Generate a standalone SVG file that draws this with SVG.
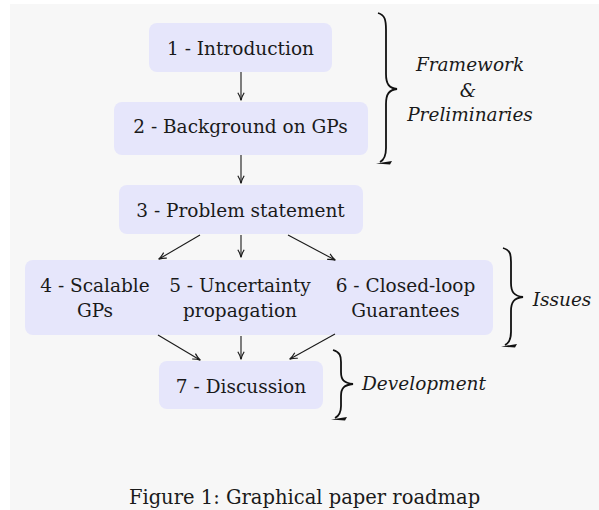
<svg xmlns="http://www.w3.org/2000/svg" width="599" height="510" viewBox="0 0 599 510">
<defs>
<style>
.node rect{fill:#e6e6fb;stroke:none}
.t{font-family:"DejaVu Serif","Liberation Serif",serif;font-size:18.5px;fill:#1a1a1a;text-anchor:middle}
.i{font-style:italic}
.cap{font-size:19.5px}
.conn path{fill:none;stroke:#1a1a1a;stroke-width:1.1}
.brace path.b{fill:none;stroke:#111;stroke-width:1.8}
.brace path.h{fill:#111;stroke:none}
</style>
<marker id="ah" viewBox="0 0 10 10" refX="9" refY="5" markerWidth="9" markerHeight="9" markerUnits="userSpaceOnUse" orient="auto">
<path d="M1,1.5 Q5,4 9.5,5 Q5,6 1,8.5" fill="none" stroke="#1a1a1a" stroke-width="1.3"/>
</marker>
</defs>
<rect x="0" y="0" width="599" height="510" fill="#ffffff"/>
<rect x="10" y="4" width="589" height="506" fill="#f7f7f7"/>

<g id="n1" class="node"><rect x="149" y="23" width="183" height="49" rx="8"/><text class="t" x="240.5" y="55">1 - Introduction</text></g>
<g id="n2" class="node"><rect x="114" y="102" width="254" height="53" rx="8"/><text class="t" x="240.5" y="133">2 - Background on GPs</text></g>
<g id="n3" class="node"><rect x="119" y="185" width="244" height="49" rx="8"/><text class="t" x="240.5" y="217">3 - Problem statement</text></g>
<g id="n456" class="node"><rect x="25" y="260" width="468" height="75" rx="8"/>
<text class="t" x="95" y="292">4 - Scalable</text><text class="t" x="95" y="317">GPs</text>
<text class="t" x="240" y="292">5 - Uncertainty</text><text class="t" x="240" y="317">propagation</text>
<text class="t" x="405.5" y="292">6 - Closed-loop</text><text class="t" x="405.5" y="317">Guarantees</text></g>
<g id="n7" class="node"><rect x="159" y="361" width="164" height="48" rx="8"/><text class="t" x="241" y="393">7 - Discussion</text></g>

<g id="connectors" class="conn">
<path d="M241,72 L241,100" marker-end="url(#ah)"/>
<path d="M241,155 L241,183" marker-end="url(#ah)"/>
<path d="M200,235 L159,259" marker-end="url(#ah)"/>
<path d="M241,235 L241,257" marker-end="url(#ah)"/>
<path d="M288,235 L335,260" marker-end="url(#ah)"/>
<path d="M158,335 L200,360" marker-end="url(#ah)"/>
<path d="M241,336 L241,359" marker-end="url(#ah)"/>
<path d="M335,334 L290,359" marker-end="url(#ah)"/>
</g>

<g id="brace1" class="brace">
<path class="b" d="M378,13 C385,15 386,20 386,30 L386,74 C386,84 389,88 397,89 C389,90 386,94 386,104 L386,148 C386,156 384,160 380,162"/>
<path class="h" d="M376,163.5 L392,161 L390,164.5 Z"/>
<text class="t i" x="470" y="71">Framework</text>
<text class="t i" x="468" y="97">&amp;</text>
<text class="t i" x="470" y="121">Preliminaries</text>
</g>
<g id="brace2" class="brace">
<path class="b" d="M503,248 C510,250 511,254 511,262 L511,283 C511,292 514,296 523,297 C514,298 511,302 511,311 L511,332 C511,339 509,343 505,345"/>
<path class="h" d="M501,346.5 L517,344 L515,347.5 Z"/>
<text class="t i" x="562" y="306">Issues</text>
</g>
<g id="brace3" class="brace">
<path class="b" d="M333,350 C340,352 341,356 341,362 L341,372 C341,380 344,383 353,384 C344,385 341,388 341,396 L341,406 C341,412 339,416 335,418"/>
<path class="h" d="M331,419.5 L347,417 L345,420.5 Z"/>
<text class="t i" x="424" y="390">Development</text>
</g>

<text class="t cap" x="304.5" y="504">Figure 1: Graphical paper roadmap</text>
</svg>
